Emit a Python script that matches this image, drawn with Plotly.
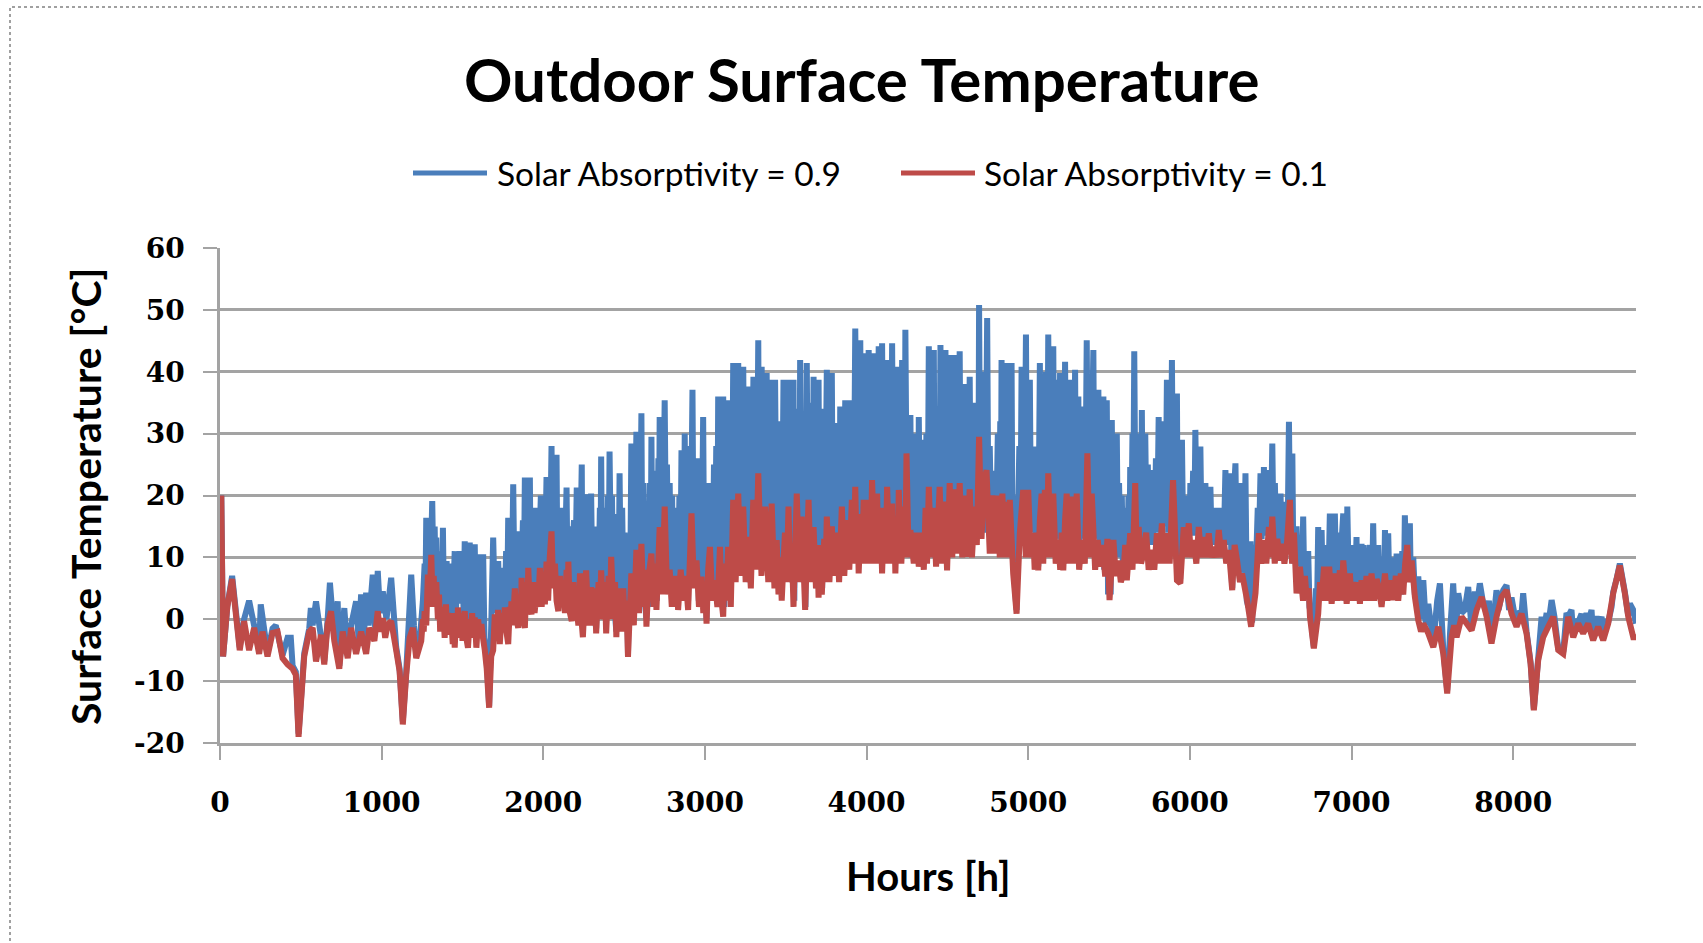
import plotly.graph_objects as go

# Hourly outdoor surface temperature for two solar absorptivities (vertices of the traces, [h], [°C])
red_points = [
    (0, -6), (8, 20), (19, -6), (45, 2), (75, 6.5), (122, -5), (149, -0.3), (180, -5), (211, -1.4), (242, -5.6),
    (263, -2), (294, -6), (325, -2.2), (356, -2), (387, -6.3), (418, -7.3), (449, -8), (469, -9), (486, -19),
    (521, -6), (552, -2), (573, -1.4), (594, -6.8), (625, -2.5), (645, -7.3), (666, -0.8), (687, 1.3), (707, -3.5),
    (738, -8), (759, -2), (790, -6.3), (811, -1.4), (842, -5.6), (873, -2), (904, -5.6), (924, -1.4), (955, -3.5),
    (976, 1.3), (990, -2), (1007, 0.2), (1022, -3), (1038, -0.8), (1059, -0.3), (1090, -5), (1111, -8.4),
    (1131, -17), (1152, -9), (1173, -3), (1193, -1.4), (1214, -6.3), (1245, -3.5),
    (1255, 0), (1260, -2), (1266, 1.3), (1276, -1), (1286, 7.2), (1295, 2), (1307, 10.4), (1315, 3), (1322, 7),
    (1328, 2), (1338, 6), (1348, 0), (1355, 4), (1362, -2), (1369, 2), (1375, -0.8), (1382, 1), (1390, -3),
    (1398, 2.4), (1404, -2), (1410, 1), (1420, -2.5), (1431, -0.3), (1440, -4), (1446, 1), (1452, -4.6),
    (1462, 1), (1466, -3), (1472, 1.9), (1482, -3), (1493, 1), (1500, -3.5), (1507, 0), (1514, 1.3), (1524, -3),
    (1534, -4.6), (1545, 0), (1552, -3), (1560, 1), (1566, -2), (1576, 0.3), (1586, -4.6), (1597, 0), (1607, -3),
    (1617, -0.8), (1627, -3), (1638, -5), (1650, -8), (1665, -14.3), (1678, -6), (1690, -5),
    (1700, 0.8), (1710, -3), (1720, 1.5), (1731, -4), (1742, 1), (1752, -2), (1762, 1.9), (1772, -2), (1783, -4),
    (1793, 2), (1798, -1), (1803, 2.9), (1812, -1), (1824, 5), (1834, 0), (1845, -1.4), (1855, 4), (1860, 0),
    (1866, 6.7), (1876, 0), (1886, -1.4), (1896, 6), (1902, 1), (1907, 8.3), (1917, 2), (1927, 0.8), (1937, 6),
    (1946, 1), (1958, 4), (1968, 2), (1979, 8.3), (1990, 2), (2000, 7), (2010, 2.4), (2020, 9.3), (2030, 3),
    (2040, 10), (2051, 14.2), (2061, 5), (2072, 9), (2082, 3), (2093, 1.3), (2103, 7), (2113, 2), (2124, 4.5),
    (2134, 1), (2144, 8), (2150, 2), (2155, 9.3), (2165, 1), (2176, -0.3), (2186, 6), (2196, 0), (2207, 1.9),
    (2217, -1), (2227, 7.4), (2236, 0), (2245, -2.9),
    (2265, 7.9), (2280, -1), (2296, 5.2), (2311, -1), (2320, 5), (2327, -2.3), (2342, 6), (2350, 0), (2358, 7.9),
    (2372, 0), (2380, 6), (2389, -2.3), (2404, 7), (2412, 0), (2420, 10.1), (2436, 0), (2444, 6), (2452, -2.9),
    (2462, 5), (2467, 0), (2472, 4.2), (2488, -2), (2495, 5), (2503, -1), (2514, 3), (2524, -6.1), (2545, 7.4),
    (2560, -1), (2576, 11.2), (2592, 1), (2607, 12.2), (2620, 2), (2630, 8), (2638, -1.2), (2652, 7),
    (2669, 10.6), (2684, 2), (2692, 9), (2700, 1.5), (2720, 14.9), (2735, 4), (2751, 18.2), (2766, 4), (2782, 8),
    (2795, 2), (2810, 7), (2820, 2), (2827, 7), (2834, 1.5), (2850, 8), (2865, 3), (2880, 7), (2896, 1.5),
    (2917, 17.1), (2932, 5), (2948, 9.5), (2963, 2), (2979, 6.9), (2990, 1), (3000, 6), (3010, -0.7), (3020, 8),
    (3031, 11.7), (3046, 3), (3062, 6.3), (3077, 2), (3093, 11.7), (3103, 3), (3113, 0.4), (3122, 9), (3130, 3),
    (3144, 11.7), (3160, 2), (3175, 19.3), (3190, 6), (3206, 20.3), (3222, 7), (3237, 18.2), (3252, 6),
    (3268, 13.3), (3284, 5), (3299, 19.3), (3315, 8), (3330, 23.6), (3350, 7), (3372, 18.2), (3392, 6),
    (3413, 18.7), (3430, 5), (3444, 12.8), (3455, 4), (3465, 10), (3475, 3), (3495, 14), (3505, 6), (3517, 18.2),
    (3527, 6), (3537, 12), (3548, 2.0), (3568, 20.3), (3585, 6), (3599, 16.6), (3620, 1.5), (3641, 19.3),
    (3656, 6), (3672, 14.9), (3687, 5), (3695, 12), (3703, 3.5), (3713, 12), (3723, 4), (3738, 13), (3745, 6),
    (3754, 16.6), (3770, 6), (3785, 15), (3800, 7), (3816, 14), (3830, 6), (3847, 18.2), (3862, 7), (3878, 16.0),
    (3893, 8), (3909, 19.3), (3920, 9), (3930, 21.4), (3940, 9), (3945, 16), (3951, 7.4), (3966, 17), (3972, 9),
    (3982, 19.3), (3997, 9), (4013, 19.3), (4024, 9), (4034, 22.5), (4050, 9), (4065, 20.3), (4075, 9),
    (4085, 18), (4096, 7.4), (4110, 18), (4118, 9), (4127, 21.4), (4142, 9), (4158, 18.7), (4166, 9), (4172, 16),
    (4178, 7.4), (4188, 16), (4194, 9), (4199, 20.9), (4215, 9), (4230, 18.2), (4240, 10), (4247, 26.8),
    (4260, 10), (4271, 14.4), (4292, 9), (4308, 14), (4323, 8.5), (4340, 14), (4354, 8), (4365, 18), (4374, 9),
    (4385, 21.4), (4400, 10), (4416, 18), (4430, 8.5), (4452, 21.4), (4468, 9), (4483, 19), (4498, 7.9),
    (4514, 22.0), (4530, 10), (4545, 21), (4560, 10.6), (4576, 22.0), (4592, 10), (4607, 20), (4622, 10.1),
    (4638, 21), (4652, 10), (4669, 18.2), (4682, 12), (4696, 29.5), (4711, 13), (4725, 22), (4742, 24.1),
    (4762, 10.6), (4778, 20), (4793, 10.6), (4810, 20), (4824, 10), (4840, 20.3), (4855, 10), (4870, 19),
    (4877, 10), (4886, 19.3), (4907, 7.4), (4928, 0.9), (4948, 13.9), (4969, 20.9), (4985, 10), (5000, 20.9),
    (5015, 10), (5031, 13.9), (5040, 8), (5050, 14), (5062, 7.9), (5072, 16), (5083, 20.3), (5093, 9),
    (5103, 20.9), (5114, 10), (5124, 23.6), (5140, 10), (5155, 20.3), (5170, 9), (5186, 12.8), (5198, 8),
    (5207, 14), (5217, 7.9), (5228, 16), (5238, 20.3), (5253, 9), (5269, 19.8), (5285, 9), (5300, 20.3),
    (5315, 8), (5331, 12.8), (5350, 9), (5366, 26.8), (5380, 10), (5393, 20.3), (5414, 8), (5430, 12.8),
    (5445, 8.5), (5460, 12), (5476, 6.9), (5490, 13), (5503, 3.1), (5527, 12.8), (5542, 7), (5558, 9.5),
    (5573, 6), (5589, 7.4), (5600, 12), (5610, 6.3), (5631, 13.9), (5645, 8), (5662, 22.0), (5672, 9),
    (5683, 14.9), (5698, 9), (5713, 10.6), (5730, 14), (5745, 8), (5765, 11.2), (5780, 8), (5796, 13.9),
    (5810, 9), (5827, 15.5), (5842, 9), (5858, 13.9), (5875, 9), (5896, 22.5), (5920, 6.3), (5941, 5.8),
    (5962, 14.9), (5977, 10), (5993, 15.5), (6008, 10), (6024, 12.8), (6040, 9), (6055, 14.9), (6070, 10),
    (6086, 13.3), (6100, 10), (6117, 13.9), (6132, 10), (6148, 11.7), (6163, 10), (6179, 14.4), (6195, 10),
    (6210, 12.8), (6225, 9), (6241, 11.2), (6262, 4.7), (6277, 12), (6292, 9.5), (6310, 6), (6323, 7.4),
    (6354, 3.1), (6379, -1.2), (6406, 4.2), (6427, 13.9), (6442, 9), (6458, 12.8), (6473, 9), (6489, 14.9),
    (6500, 10), (6510, 16.6), (6525, 9), (6541, 13), (6556, 9.5), (6572, 12.2), (6585, 9), (6600, 12),
    (6619, 19.3), (6632, 9), (6644, 14), (6660, 4.2), (6681, 8.5), (6700, 3), (6712, 7), (6722, 3.6), (6735, 5),
    (6743, 0.4), (6767, -4.7), (6794, 0.9), (6805, 6), (6815, 3), (6830, 8.5), (6846, 3), (6862, 8.5),
    (6877, 2.5), (6897, 7.4), (6912, 3), (6928, 7.9), (6938, 3), (6949, 9.5), (6970, 2.5), (6990, 7.4),
    (7000, 3), (7011, 6), (7026, 3), (7042, 6), (7052, 2.5), (7062, 6.3), (7078, 3), (7093, 7), (7108, 3),
    (7124, 7.4), (7140, 3), (7155, 6.5), (7170, 5), (7186, 2), (7207, 7.4), (7222, 3), (7238, 6.3), (7258, 3.1),
    (7274, 7), (7289, 3), (7305, 7.4), (7320, 4), (7332, 9), (7345, 12.0), (7358, 6), (7372, 9.5), (7392, 3.6),
    (7413, -0.2), (7430, -2), (7444, -0.7), (7475, -2.3), (7506, -4.5), (7537, -1.2), (7568, -5.6), (7592, -12.0),
    (7619, -2.9), (7635, -1), (7650, -2.9), (7681, 0.4), (7712, -0.7), (7743, -1.8), (7774, 1.5), (7805, 3.6),
    (7836, 0.4), (7866, -3.9), (7897, 0.4), (7928, 3.6), (7959, 4.7), (7990, 0.9), (8021, -1.2), (8052, 0.9),
    (8083, -2.3), (8108, -7.2), (8128, -14.7), (8155, -6.6), (8186, -2.9), (8217, -1.2), (8248, 0.4),
    (8279, -5.0), (8310, -5.6), (8341, 0.4), (8372, -2.9), (8403, -0.7), (8433, -2.3), (8464, -0.7),
    (8495, -3.4), (8526, -1.2), (8557, -3.4), (8588, -0.7), (8619, 4.2), (8660, 8.7), (8691, 4.2), (8712, 0.4),
    (8743, -2.9), (8760, -2.9),
]

blue_points = [
    (0, -6), (8, 20), (19, -6), (45, 2), (75, 7), (122, -4.5), (149, 0), (180, 3), (211, -1), (242, -5),
    (252, 2.4), (294, -5.5), (325, -1.5), (345, -1), (387, -5.8), (418, -3), (438, -3), (449, -7.5), (469, -8.5),
    (486, -18.5), (521, -5.5), (552, -1.5), (562, 1.8), (573, -1), (594, 2.9), (620, -2), (645, -6.8), (666, 0),
    (680, 5.9), (707, -3), (728, 2.9), (738, -7.5), (769, 1.8), (790, -5.8), (811, -1), (842, 2.9), (858, -3.5),
    (873, 4), (890, -3), (904, 4.3), (920, -1), (945, 7.2), (960, -1.5), (976, 7.8), (990, 1), (1007, 4.5),
    (1030, 0), (1059, 6.7), (1090, -4.5), (1111, -8), (1131, -16.5), (1152, -8.5), (1183, 7.2), (1200, -1),
    (1214, -5.8), (1240, -2), (1255, 2.9),
    (1266, 9), (1271, 4), (1276, 16.4), (1283, 6), (1290, 12), (1300, 5), (1313, 19.1), (1320, 7), (1328, 15),
    (1334, 5), (1338, 13.2), (1346, 3), (1355, 11), (1362, 2), (1370, 10), (1375, 3), (1379, 14.8), (1385, 3),
    (1392, 9), (1397, 1), (1402, 9.4), (1410, 0), (1418, 8), (1424, -1), (1432, 9), (1440, 1), (1452, 11),
    (1460, 1), (1466, 10), (1472, 2.5), (1482, 11), (1490, 3), (1500, 10), (1507, 1), (1514, 12.6), (1522, 0),
    (1528, 9), (1534, -3.5), (1540, 7), (1545, 12.4), (1552, 1), (1560, 10), (1566, 1), (1576, 12.1), (1582, 0),
    (1590, 8), (1597, -2), (1607, 10.5), (1612, 0), (1617, 7), (1622, 0), (1628, 10.5), (1636, -3), (1645, -4.5),
    (1655, -9), (1665, -14), (1678, -1), (1690, 13.2), (1700, 2), (1710, 9), (1716, 1), (1721, 9.4), (1730, 0),
    (1740, 7), (1746, -1), (1752, 8.3), (1760, 0), (1770, 11), (1776, 1), (1783, 16.4), (1790, 2), (1797, 12),
    (1804, 3), (1814, 21.8), (1822, 4), (1830, 13), (1836, 5), (1845, 14.2), (1851, 1), (1858, 12), (1866, 7),
    (1874, 16), (1880, 5), (1886, 22.9), (1893, 6), (1900, 14), (1907, 8), (1917, 22.9), (1923, 3), (1930, 12),
    (1936, 2), (1948, 18), (1956, 5), (1965, 15), (1972, 8), (1985, 20), (1992, 6), (2000, 14), (2007, 3),
    (2020, 23), (2027, 10), (2035, 18), (2042, 11), (2051, 28), (2058, 9), (2065, 20), (2072, 8), (2082, 26.6),
    (2088, 5), (2095, 14), (2100, 2), (2113, 18), (2118, 4), (2124, 14), (2130, 5), (2144, 21.3), (2150, 6),
    (2160, 15), (2168, 6), (2176, 0), (2183, 12), (2190, 16), (2196, 3), (2207, 21.3), (2213, 5), (2220, 14),
    (2227, 7.5), (2238, 25), (2243, 0), (2248, -1), (2256, 12), (2263, 8), (2269, 20.2), (2276, 8), (2282, 15),
    (2288, 5), (2296, 20.3), (2304, 4), (2312, 15), (2320, 0), (2327, -1.5), (2336, 14), (2343, 6), (2350, 18),
    (2354, 8), (2358, 26.3), (2365, 2), (2372, 18), (2380, 8), (2388, 17), (2392, 0), (2400, 20), (2405, 9),
    (2410, 27.1), (2418, 10), (2425, 20), (2432, 3), (2440, 17), (2446, 0), (2452, -2), (2460, 16), (2466, 4),
    (2472, 23.6), (2480, 4), (2488, 18), (2495, 4), (2503, 14), (2510, 3), (2517, 8), (2524, -5.5), (2532, 10),
    (2538, 6), (2545, 28.4), (2552, 7), (2560, 20), (2566, 9), (2576, 30.3), (2583, 10), (2592, 24), (2598, 11),
    (2607, 33.3), (2613, 6), (2620, 22), (2628, 3), (2638, 0), (2645, 18), (2652, 5), (2660, 22), (2665, 10),
    (2669, 29.5), (2676, 2), (2683, 24), (2690, 10), (2697, 22), (2703, 3), (2712, 26), (2716, 12), (2720, 32.7),
    (2728, 14), (2735, 28), (2742, 15), (2751, 35.4), (2758, 15), (2765, 25), (2772, 8), (2782, 22), (2790, 5),
    (2797, 20), (2803, 3), (2812, 17), (2820, 6), (2827, 18), (2834, 3), (2842, 20), (2848, 6), (2855, 27.3),
    (2860, 8), (2865, 22), (2870, 7), (2875, 30), (2882, 4), (2889, 24), (2896, 3), (2906, 28), (2914, 15),
    (2923, 37.1), (2930, 8), (2938, 26), (2948, 10), (2955, 25), (2962, 3), (2970, 26), (2979, 7), (2989, 32.7),
    (2996, 5), (3003, 20), (3010, 0), (3020, 22), (3031, 12), (3040, 14), (3048, 6), (3056, 25), (3062, 7),
    (3070, 28), (3076, 5), (3082, 36), (3090, 12), (3098, 28), (3105, 4), (3113, 36), (3120, 2), (3128, 28),
    (3135, 8), (3144, 35.4), (3152, 4), (3160, 30), (3167, 12), (3175, 41.4), (3183, 8), (3190, 32), (3197, 18),
    (3206, 41.4), (3213, 10), (3220, 33), (3228, 16), (3237, 40.8), (3245, 8), (3252, 30), (3260, 10),
    (3268, 37.6), (3276, 6), (3285, 32), (3292, 18), (3300, 39.2), (3307, 10), (3315, 32), (3322, 19),
    (3330, 45.1), (3336, 9), (3342, 32), (3346, 20), (3351, 40.8), (3358, 10), (3366, 33), (3374, 17),
    (3382, 39.8), (3388, 8), (3395, 30), (3403, 10), (3413, 38.7), (3419, 8), (3425, 30), (3430, 6),
    (3434, 38.7), (3442, 13), (3450, 30), (3458, 8), (3466, 32), (3475, 4), (3486, 38.7), (3493, 12), (3500, 32),
    (3507, 8), (3517, 38.7), (3522, 15), (3528, 30), (3538, 6), (3548, 38.7), (3553, 3), (3560, 32), (3568, 20),
    (3578, 34), (3584, 8), (3589, 41.9), (3596, 15), (3603, 32), (3610, 6), (3618, 30), (3622, 2), (3630, 41.4),
    (3636, 18), (3643, 32), (3650, 8), (3660, 35), (3666, 12), (3672, 39.2), (3680, 14), (3686, 30), (3692, 5),
    (3703, 38.7), (3710, 5), (3718, 30), (3725, 5), (3735, 34), (3742, 10), (3754, 40.3), (3762, 8), (3770, 32),
    (3776, 14), (3785, 39.8), (3792, 10), (3800, 30), (3808, 8), (3816, 31.7), (3822, 12), (3828, 30), (3832, 8),
    (3837, 34.4), (3845, 16), (3852, 31), (3858, 10), (3868, 35.4), (3876, 14), (3885, 32), (3892, 10),
    (3899, 35.4), (3905, 14), (3912, 32), (3920, 12), (3930, 47), (3940, 20), (3948, 10), (3955, 35),
    (3961, 45.1), (3967, 12), (3972, 34), (3977, 16), (3982, 43), (3990, 16), (3998, 33), (4005, 12),
    (4013, 43.5), (4020, 15), (4030, 34), (4036, 18), (4044, 43), (4052, 14), (4060, 33), (4067, 16),
    (4075, 44.1), (4082, 16), (4088, 30), (4092, 10), (4096, 44.6), (4104, 14), (4112, 34), (4118, 12),
    (4127, 41.9), (4134, 16), (4142, 32), (4150, 12), (4158, 44.6), (4165, 14), (4172, 30), (4178, 10),
    (4189, 40.8), (4197, 15), (4205, 34), (4212, 12), (4220, 41.9), (4226, 14), (4232, 30), (4236, 16),
    (4240, 46.8), (4250, 12), (4258, 30), (4264, 15), (4271, 33), (4278, 10), (4285, 26), (4292, 10), (4300, 30),
    (4308, 12), (4315, 26), (4320, 10), (4323, 32.7), (4332, 9), (4340, 26), (4347, 10), (4354, 29), (4362, 10),
    (4370, 30), (4378, 14), (4385, 44.1), (4392, 12), (4400, 32), (4408, 14), (4416, 43.5), (4422, 10),
    (4428, 30), (4432, 12), (4437, 34.4), (4442, 14), (4447, 30), (4452, 20), (4457, 44.3), (4464, 12),
    (4472, 32), (4480, 12), (4488, 43.5), (4494, 10), (4500, 30), (4507, 12), (4514, 42.7), (4522, 14),
    (4530, 32), (4537, 12), (4545, 42.7), (4552, 14), (4560, 33), (4568, 16), (4576, 43.3), (4584, 12),
    (4592, 32), (4600, 12), (4607, 38), (4614, 14), (4622, 32), (4630, 14), (4638, 39.2), (4646, 12), (4654, 32),
    (4660, 18), (4670, 35), (4680, 16), (4688, 30), (4692, 20), (4696, 50.8), (4703, 16), (4711, 32), (4720, 14),
    (4728, 40), (4737, 20), (4746, 48.7), (4754, 14), (4762, 28), (4770, 16), (4778, 24), (4786, 12), (4793, 22),
    (4800, 11), (4812, 30), (4820, 12), (4827, 32), (4831, 14), (4835, 41.9), (4842, 14), (4850, 30), (4858, 14),
    (4866, 41.4), (4874, 14), (4882, 33), (4890, 14), (4897, 41.4), (4903, 10), (4910, 20), (4918, 5),
    (4928, 1.5), (4937, 16), (4945, 28), (4952, 14), (4959, 40.8), (4965, 14), (4970, 32), (4978, 21),
    (4986, 46), (4993, 14), (5000, 33), (5005, 21), (5010, 38.7), (5017, 14), (5025, 26), (5033, 14),
    (5041, 27.9), (5050, 9), (5056, 20), (5062, 8.5), (5067, 25), (5072, 41.4), (5080, 14), (5090, 33),
    (5100, 21), (5110, 40), (5117, 14), (5124, 46), (5132, 14), (5140, 33), (5148, 21), (5155, 44.1), (5162, 12),
    (5170, 30), (5173, 15), (5176, 38.7), (5181, 13), (5186, 30), (5191, 13.5), (5197, 39.8), (5205, 9),
    (5214, 26), (5220, 9), (5228, 41.6), (5236, 14), (5245, 32), (5252, 20), (5259, 38.7), (5267, 14),
    (5275, 33), (5282, 20), (5290, 40.3), (5296, 12), (5303, 30), (5306, 18), (5310, 36), (5316, 12), (5322, 28),
    (5326, 14), (5331, 34.4), (5338, 13), (5346, 32), (5354, 20), (5362, 45.1), (5370, 14), (5380, 33),
    (5390, 22), (5403, 43.5), (5410, 13), (5416, 30), (5425, 13), (5434, 37.1), (5442, 9), (5450, 28), (5458, 9),
    (5465, 36), (5470, 8), (5476, 25), (5481, 7.5), (5486, 35.4), (5494, 4), (5503, 22), (5510, 4), (5517, 32.2),
    (5524, 12), (5530, 26), (5538, 10), (5548, 30), (5555, 10), (5562, 22), (5570, 10), (5579, 20), (5586, 8),
    (5594, 18), (5600, 8), (5610, 18), (5615, 9), (5620, 20), (5626, 9), (5631, 24.6), (5638, 14), (5645, 30),
    (5650, 17), (5656, 43.3), (5663, 17), (5670, 30), (5676, 15), (5683, 30), (5690, 12), (5697, 28), (5700, 12),
    (5703, 33.8), (5709, 11), (5714, 26), (5719, 11), (5724, 30), (5732, 13), (5740, 25), (5747, 12),
    (5755, 24.1), (5760, 12), (5766, 22), (5771, 12), (5776, 23.6), (5783, 14.5), (5790, 26), (5798, 14),
    (5807, 32.7), (5812, 15), (5818, 28), (5822, 15), (5827, 32), (5835, 15), (5843, 30), (5850, 15),
    (5858, 38.7), (5866, 14), (5875, 32), (5882, 17), (5889, 41.9), (5897, 13), (5906, 30), (5913, 13),
    (5920, 36.5), (5926, 6.5), (5932, 22), (5940, 6.5), (5951, 29), (5958, 14), (5965, 20), (5973, 14),
    (5982, 17), (5988, 14), (5995, 20), (5999, 15), (6003, 22), (6012, 13.5), (6020, 24), (6027, 13.5),
    (6034, 30.6), (6042, 14.5), (6050, 24), (6057, 14.5), (6065, 27.9), (6072, 14), (6080, 20), (6088, 13),
    (6096, 22), (6103, 14), (6110, 20), (6118, 13), (6127, 21.4), (6135, 12), (6142, 18), (6150, 12), (6158, 15),
    (6166, 13), (6175, 18), (6182, 14), (6189, 17), (6195, 13), (6200, 18), (6210, 12), (6220, 24.1), (6230, 12),
    (6238, 20), (6245, 12), (6251, 23.6), (6257, 8), (6262, 5), (6272, 20), (6282, 25.2), (6290, 9), (6300, 18),
    (6307, 9), (6313, 22), (6319, 7.5), (6325, 16), (6335, 7), (6344, 23.6), (6352, 3), (6362, 2), (6368, 10),
    (6375, 12.6), (6380, 0), (6385, -0.5), (6395, 8), (6406, 11.5), (6413, 12), (6420, 18), (6428, 13),
    (6437, 23.6), (6444, 13), (6450, 20), (6454, 13.5), (6458, 24.6), (6464, 14), (6470, 20), (6474, 14),
    (6479, 24.1), (6487, 15), (6495, 22), (6502, 15.5), (6510, 28.4), (6518, 13), (6526, 22), (6533, 13),
    (6541, 20), (6548, 11.5), (6552, 18), (6556, 11.5), (6561, 20.3), (6568, 11), (6575, 18), (6579, 11),
    (6582, 19), (6590, 10), (6598, 18), (6605, 14), (6613, 31.9), (6619, 17), (6624, 22), (6629, 17),
    (6634, 26.8), (6640, 9), (6646, 12), (6653, 9), (6660, 15), (6666, 8.5), (6671, 12), (6678, 8.5),
    (6686, 12.5), (6694, 8), (6701, 16.6), (6708, 5), (6715, 10), (6722, 4), (6727, 10), (6732, 11), (6740, 2),
    (6748, 1), (6757, -2), (6767, -4.5), (6780, 5), (6787, 2), (6794, 14.9), (6800, 3), (6805, 10), (6810, 4),
    (6815, 14.4), (6822, 5), (6830, 12), (6836, 9.5), (6840, 4), (6846, 10), (6856, 4), (6866, 17.1), (6871, 3),
    (6877, 12), (6887, 3), (6897, 17.1), (6905, 6), (6912, 14), (6918, 8), (6926, 12), (6934, 4), (6942, 14),
    (6949, 17.1), (6957, 3), (6965, 12), (6970, 3), (6974, 18.2), (6982, 7.5), (6990, 12), (6996, 4), (7003, 12),
    (7011, 10), (7020, 3), (7031, 13.3), (7036, 4), (7042, 10), (7050, 3), (7062, 12.2), (7068, 4), (7075, 12),
    (7083, 7), (7088, 10), (7093, 3.5), (7100, 10), (7104, 6), (7114, 12), (7120, 4), (7124, 9), (7129, 8),
    (7134, 15.5), (7142, 4), (7150, 12), (7155, 4.5), (7165, 12), (7172, 5), (7176, 8), (7181, 4), (7186, 2.5),
    (7196, 10), (7202, 6), (7207, 14.4), (7212, 5), (7218, 10), (7222, 6), (7227, 13.9), (7235, 4), (7242, 10),
    (7248, 7), (7253, 10), (7258, 3.5), (7268, 8), (7274, 6), (7279, 10.6), (7286, 4), (7292, 10), (7299, 7.5),
    (7308, 4), (7314, 11), (7320, 10), (7325, 6), (7330, 16.8), (7338, 9), (7345, 12.5), (7352, 8), (7361, 15.5),
    (7366, 7), (7372, 9.5), (7377, 6), (7382, 10), (7392, 4),
    (7413, 6.9), (7430, 0), (7444, 6.3), (7460, -1), (7475, 2.5), (7506, -4), (7530, 3), (7547, 5.8),
    (7568, -5), (7592, -11.5), (7610, -2), (7629, 5.8), (7645, -2.5), (7660, 4.2), (7681, 1), (7700, 1.5),
    (7722, 5.2), (7743, -1.5), (7763, 4.5), (7774, 2), (7794, 5.8), (7815, 2.5), (7836, 1), (7850, 3),
    (7866, -3.5), (7897, 4.7), (7910, 1.5), (7928, 3.8), (7939, 4.7), (7959, 5.5), (7975, 1.5), (7990, 3.5),
    (8021, -1), (8040, 1), (8052, 1), (8062, 4.2), (8083, -2), (8108, -7), (8128, -14.5), (8155, -6.3),
    (8176, 0.4), (8186, -2.5), (8207, 1), (8217, -1), (8238, 3.1), (8255, 0.5), (8279, -4.7), (8310, -5.3),
    (8330, 1), (8341, 0.5), (8361, 1.5), (8372, -2.6), (8392, 0), (8403, -0.5), (8423, 0.9), (8433, -2),
    (8454, 1), (8464, -0.5), (8485, 1.5), (8495, -3.1), (8516, 0.5), (8526, -1), (8547, 0.4), (8557, -3.1),
    (8578, 0), (8588, -0.5), (8609, 2.0), (8619, 4.4), (8640, 6.5), (8660, 9.0), (8691, 4.4), (8712, 0.6),
    (8722, 2.5), (8743, 1.5), (8760, -0.7),
]

blue_hours = [p[0] for p in blue_points]
blue_temp = [p[1] for p in blue_points]
red_hours = [p[0] for p in red_points]
red_temp = [p[1] for p in red_points]

series_names = ["Solar Absorptivity = 0.9", "Solar Absorptivity = 0.1"]
series_colors = ["#4A7EBB", "#BE4B48"]
x_ticks = [0, 1000, 2000, 3000, 4000, 5000, 6000, 7000, 8000]
y_ticks = [-20, -10, 0, 10, 20, 30, 40, 50, 60]

# page geometry (pixels)
W, H = 1703, 943
PL, PR, PT, PB = 220, 1636, 248, 743


def px(xp):
    return (xp - PL) / (PR - PL)


def py(yp):
    return (PB - yp) / (PB - PT)


GRID = "#a3a3a3"
LINE_W = 6

fig = go.Figure()
fig.add_trace(go.Scatter(x=blue_hours, y=blue_temp, mode="lines", name=series_names[0],
                         line=dict(color=series_colors[0], width=LINE_W, simplify=False)))
fig.add_trace(go.Scatter(x=red_hours, y=red_temp, mode="lines", name=series_names[1],
                         line=dict(color=series_colors[1], width=LINE_W, simplify=False)))

tick_font = dict(family="DejaVu Serif", size=28, color="#000000", weight="bold")

fig.update_layout(
    width=W, height=H,
    margin=dict(l=PL, r=W - PR, t=PT, b=H - PB),
    paper_bgcolor="white", plot_bgcolor="white",
    showlegend=False,
    xaxis=dict(range=[0, 8760], tickvals=x_ticks, ticktext=[str(v) for v in x_ticks],
               showgrid=False, zeroline=False, showline=True, linecolor=GRID, linewidth=2.5,
               ticks="outside", ticklen=14, tickwidth=2, tickcolor=GRID,
               tickfont=tick_font, ticklabelstandoff=19),
    yaxis=dict(range=[-20, 60], tickvals=y_ticks, ticktext=[str(v) for v in y_ticks],
               showgrid=True, gridcolor=GRID, gridwidth=2.5, zeroline=False,
               showline=True, linecolor=GRID, linewidth=2.5,
               ticks="outside", ticklen=14, tickwidth=2, tickcolor=GRID,
               tickfont=tick_font, ticklabelstandoff=13),
)

# chart frame
fig.add_shape(type="rect", xref="paper", yref="paper",
              x0=px(10), x1=px(1720), y0=py(960), y1=py(7),
              line=dict(color="#a0a0a0", width=2, dash="dot"), layer="below")

# legend samples and labels
legend_font = dict(family="Lato", size=33.5, color="#000000")
for (x0, x1, tx), name, col in zip([(413, 487, 495), (901, 975, 982)], series_names, series_colors):
    fig.add_shape(type="line", xref="paper", yref="paper", x0=px(x0), x1=px(x1), y0=py(173), y1=py(173),
                  line=dict(color=col, width=5))
    fig.add_annotation(xref="paper", yref="paper", x=px(tx), y=py(173), text=name, showarrow=False,
                       xanchor="left", yanchor="middle", font=legend_font)

# title and axis titles
fig.add_annotation(xref="paper", yref="paper", x=px(861), y=py(79), text="Outdoor Surface Temperature",
                   showarrow=False, xanchor="center", yanchor="middle",
                   font=dict(family="Lato", size=60, color="#000000", weight="bold"))
fig.add_annotation(xref="paper", yref="paper", x=px(928), y=py(876), text="Hours [h]",
                   showarrow=False, xanchor="center", yanchor="middle",
                   font=dict(family="Lato", size=40, color="#000000", weight="bold"))
fig.add_annotation(xref="paper", yref="paper", x=px(85), y=py(497), text="Surface Temperature [°C]",
                   showarrow=False, xanchor="center", yanchor="middle", textangle=-90,
                   font=dict(family="Lato", size=41, color="#000000", weight="bold"))

fig.write_html("out.html")
